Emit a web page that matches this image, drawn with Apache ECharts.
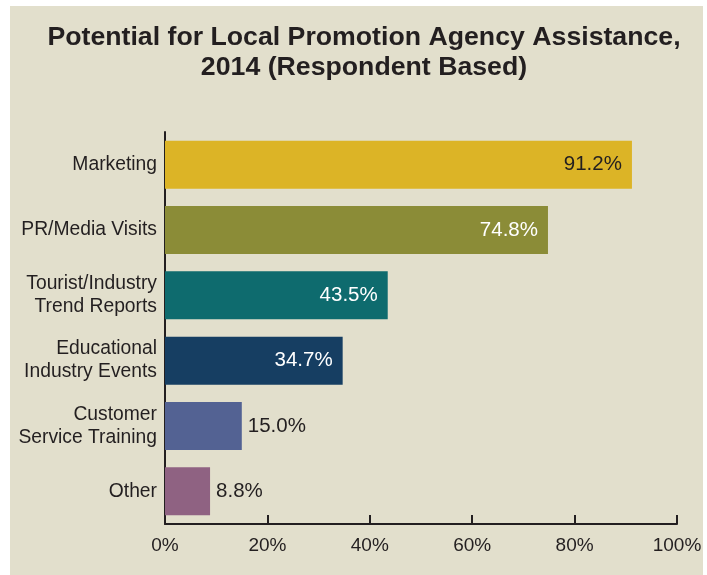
<!DOCTYPE html>
<html>
<head>
<meta charset="utf-8">
<script src="https://cdn.jsdelivr.net/npm/echarts@6/dist/echarts.min.js"></script>
<style>
  html, body { margin: 0; padding: 0; background: #ffffff; }
  #panel { position: absolute; left: 10px; top: 6px; width: 693px; height: 569px; background: #e2dfcc; }
  #chart { position: absolute; left: 0; top: 0; width: 707px; height: 575px; }
</style>
</head>
<body>
<div id="panel"></div>
<div id="chart"></div>
<script>
var categories = ['Marketing', 'PR/Media Visits', 'Tourist/Industry\nTrend Reports', 'Educational\nIndustry Events', 'Customer\nService Training', 'Other'];
var values = [91.2, 74.8, 43.5, 34.7, 15.0, 8.8];
var barColors = ['#dcb426', '#8b8c37', '#0e6b6e', '#163e62', '#536293', '#8f6282'];
var xTicks = [0, 20, 40, 60, 80, 100];

var ink = '#231f20';
var font = '"Liberation Sans", Arial, Helvetica, sans-serif';

var chart = echarts.init(document.getElementById('chart'));

var barData = values.map(function (v, i) {
  var inside = v > 30;
  return {
    value: v,
    itemStyle: { color: barColors[i] },
    label: {
      position: inside ? 'insideRight' : 'right',
      distance: inside ? 10 : 6,
      color: (inside && i > 0) ? '#ffffff' : ink
    }
  };
});

var option = {
  backgroundColor: 'transparent',
  animation: false,
  title: {
    text: 'Potential for Local Promotion Agency Assistance,\n2014 (Respondent Based)',
    left: 359,
    top: 18,
    textAlign: 'center',
    textStyle: {
      fontFamily: font,
      fontSize: 26.7,
      fontWeight: 'bold',
      color: ink,
      lineHeight: 30
    }
  },
  grid: { left: 165, right: 30, top: 132, bottom: 51 },
  xAxis: {
    type: 'value',
    min: xTicks[0],
    max: xTicks[xTicks.length - 1],
    interval: 20,
    axisLine: { show: true, lineStyle: { color: ink, width: 2 } },
    axisTick: { show: true, inside: true, length: 9, lineStyle: { color: ink, width: 2 } },
    splitLine: { show: false },
    axisLabel: {
      margin: 12,
      fontFamily: font,
      fontSize: 19,
      color: ink,
      formatter: '{value}%'
    }
  },
  yAxis: {
    type: 'category',
    inverse: true,
    data: categories,
    axisLine: { show: true, lineStyle: { color: ink, width: 2 } },
    axisTick: { show: false },
    axisLabel: {
      margin: 8,
      fontFamily: font,
      fontSize: 19.3,
      lineHeight: 23,
      color: ink,
      align: 'right'
    }
  },
  series: [{
    type: 'bar',
    barWidth: 48,
    data: barData,
    label: {
      show: true,
      fontFamily: font,
      fontSize: 20.5,
      formatter: function (p) { return p.value.toFixed(1) + '%'; }
    }
  }]
};

chart.setOption(option);
</script>
</body>
</html>
